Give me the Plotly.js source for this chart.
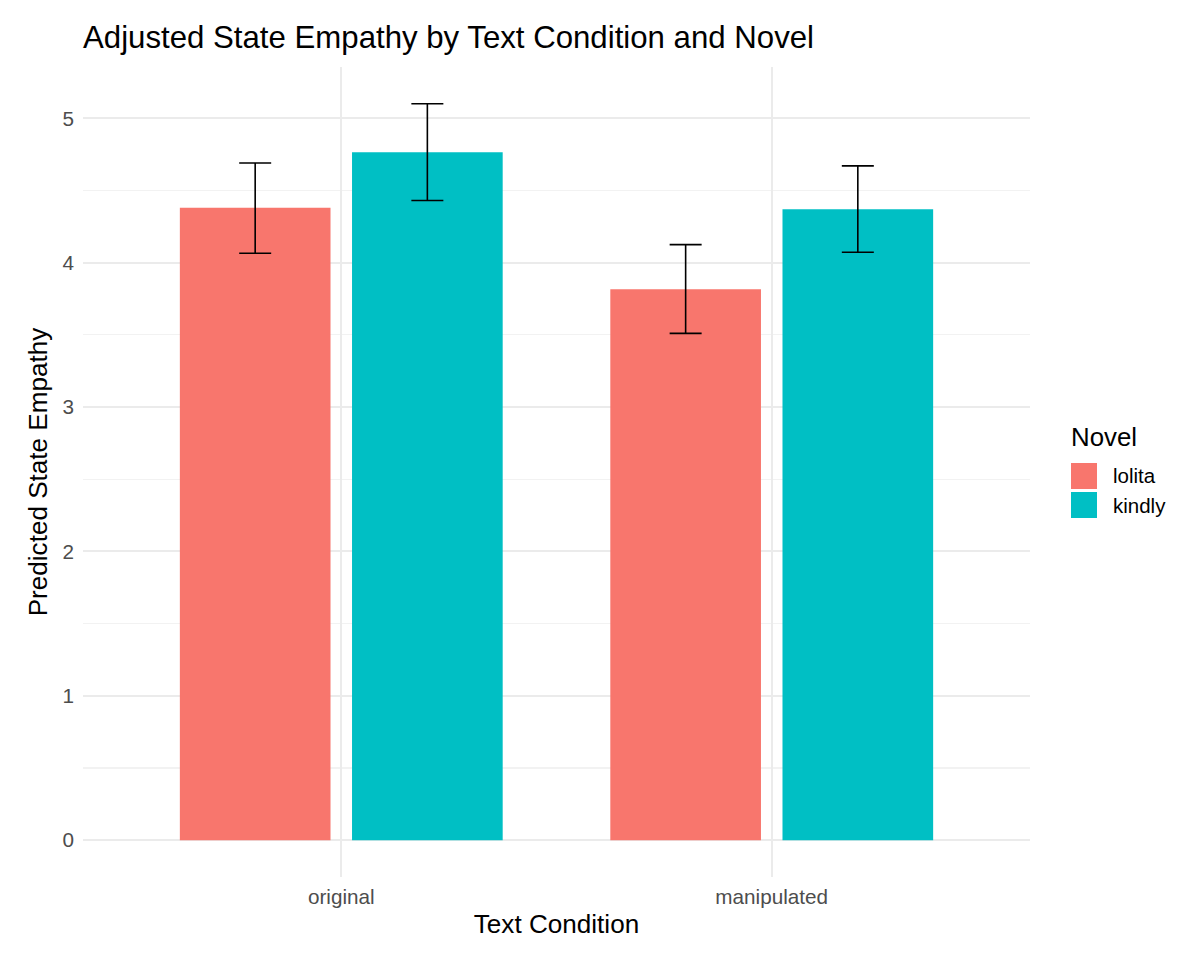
<!DOCTYPE html>
<html>
<head>
<meta charset="utf-8">
<script src="https://cdn.plot.ly/plotly-3.0.1.min.js"></script>
<style>
  html, body { margin: 0; padding: 0; background: #fff; }
  #chart { width: 1200px; height: 966px; }
</style>
</head>
<body>
<div id="chart"></div>
<script>
// data
var conditions = ['original', 'manipulated'];
var novels = ['lolita', 'kindly'];
var novelColors = ['#F8766D', '#00BFC4'];

var lolitaMean  = [4.38, 3.815];
var lolitaLower = [4.065, 3.51];
var lolitaUpper = [4.69, 4.125];

var kindlyMean  = [4.765, 4.37];
var kindlyLower = [4.43, 4.072];
var kindlyUpper = [5.10, 4.67];

var FONT = 'Liberation Sans, Arial, Helvetica, sans-serif';

function barTrace(name, color, mean, lower, upper) {
    return {
        type: 'bar',
        name: name,
        x: conditions,
        y: mean,
        marker: {color: color, line: {width: 0}},
        error_y: {
            type: 'data',
            symmetric: false,
            array: upper.map(function (u, i) { return u - mean[i]; }),
            arrayminus: lower.map(function (l, i) { return mean[i] - l; }),
            color: '#000000',
            thickness: 1.6,
            width: 16
        },
        hoverinfo: 'x+y+name',
        showlegend: false
    };
}

var data = [
    barTrace(novels[0], novelColors[0], lolitaMean, lolitaLower, lolitaUpper),
    barTrace(novels[1], novelColors[1], kindlyMean, kindlyLower, kindlyUpper)
];

// ggplot-style legend keys built from the novel arrays
var shapes = [];
var annotations = [{
    xref: 'paper', yref: 'paper', x: 1.041, y: 0.5435,
    xanchor: 'left', yanchor: 'middle', showarrow: false,
    text: 'Novel', font: {family: FONT, size: 25.8, color: '#000000'}
}];
novels.forEach(function (n, i) {
    var top = 463 + i * 29;
    shapes.push({
        type: 'rect', xref: 'paper', yref: 'paper',
        x0: (1071 - 83) / 947, x1: (1097 - 83) / 947,
        y0: (877 - top - 26) / 810, y1: (877 - top) / 810,
        fillcolor: novelColors[i], line: {width: 0}
    });
    annotations.push({
        xref: 'paper', yref: 'paper',
        x: (1111 - 83) / 947, y: (877 - top - 13) / 810,
        xanchor: 'left', yanchor: 'middle', showarrow: false,
        text: n, font: {family: FONT, size: 20.5, color: '#000000'}
    });
});

var layout = {
    width: 1200,
    height: 966,
    paper_bgcolor: '#ffffff',
    plot_bgcolor: '#ffffff',
    margin: {l: 83, r: 170, t: 67, b: 89},
    font: {family: FONT, color: '#000000'},
    title: {
        text: 'Adjusted State Empathy by Text Condition and Novel',
        font: {family: FONT, size: 31.2, color: '#000000'},
        x: 83 / 1200, xanchor: 'left',
        y: 1 - 37 / 966, yanchor: 'middle'
    },
    barmode: 'group',
    bargap: 0.2,
    bargroupgap: 0.125,
    showlegend: false,
    xaxis: {
        type: 'category',
        range: [-0.6, 1.6],
        showgrid: true,
        gridcolor: '#EBEBEB',
        gridwidth: 2,
        zeroline: false,
        showline: false,
        ticks: '',
        ticklabelstandoff: 5,
        tickfont: {family: FONT, size: 20.7, color: '#4D4D4D'},
        title: {text: 'Text Condition', standoff: 8,
                font: {family: FONT, size: 26.1, color: '#000000'}},
        automargin: false,
        fixedrange: true
    },
    yaxis: {
        range: [-0.255, 5.355],
        tickvals: [0, 1, 2, 3, 4, 5],
        ticktext: ['0', '1', '2', '3', '4', '5'],
        showgrid: true,
        gridcolor: '#EBEBEB',
        gridwidth: 2,
        minor: {tickvals: [0.5, 1.5, 2.5, 3.5, 4.5], showgrid: true,
                gridcolor: '#F2F2F2', gridwidth: 1.2, ticks: ''},
        zeroline: false,
        showline: false,
        ticks: '',
        ticklabelstandoff: 8,
        tickfont: {family: FONT, size: 20.7, color: '#4D4D4D'},
        title: {text: 'Predicted State Empathy', standoff: 7,
                font: {family: FONT, size: 26.1, color: '#000000'}},
        automargin: false,
        fixedrange: true
    },
    shapes: shapes,
    annotations: annotations
};

Plotly.newPlot('chart', data, layout, {displayModeBar: false, staticPlot: true});
</script>
</body>
</html>
